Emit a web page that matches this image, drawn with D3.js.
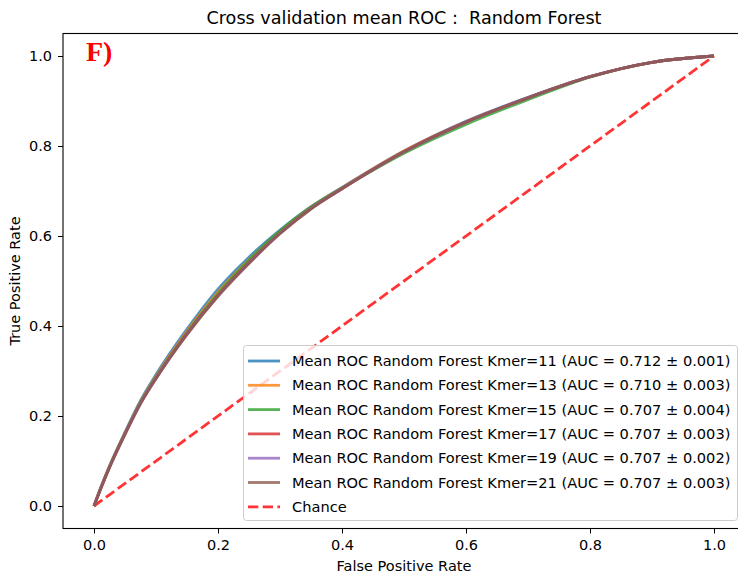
<!DOCTYPE html>
<html>
<head>
<meta charset="utf-8">
<script src="https://cdn.jsdelivr.net/npm/d3@7/dist/d3.min.js"></script>
<style>
  body { margin: 0; background: #fff; }
  text { font-family: 'DejaVu Sans', sans-serif; fill: #000; }
</style>
</head>
<body>
<svg id="chart" width="738" height="576"></svg>
<script>
// false positive rate grid shared by all mean curves
var fpr = [0, 0.01, 0.025, 0.05, 0.075, 0.1, 0.15, 0.2, 0.25, 0.3, 0.35, 0.4, 0.5, 0.6, 0.7, 0.8, 0.9, 1.0];

// mean true positive rate per kmer size
var tprK11 = [0, 0.038, 0.089, 0.164, 0.234, 0.292, 0.393, 0.482, 0.553, 0.613, 0.665, 0.708, 0.789, 0.855, 0.908, 0.954, 0.986, 1];
var tprK13 = [0, 0.037, 0.088, 0.162, 0.231, 0.288, 0.388, 0.475, 0.547, 0.610, 0.664, 0.707, 0.789, 0.854, 0.907, 0.954, 0.986, 1];
var tprK15 = [0, 0.036, 0.087, 0.161, 0.230, 0.286, 0.385, 0.472, 0.546, 0.611, 0.664, 0.706, 0.784, 0.848, 0.903, 0.953, 0.986, 1];
var tprK17 = [0, 0.036, 0.086, 0.160, 0.228, 0.284, 0.383, 0.468, 0.541, 0.606, 0.661, 0.705, 0.787, 0.853, 0.907, 0.954, 0.986, 1];
var tprK19 = [0, 0.036, 0.086, 0.160, 0.228, 0.284, 0.382, 0.467, 0.540, 0.606, 0.661, 0.705, 0.787, 0.853, 0.907, 0.954, 0.986, 1];
var tprK21 = [0, 0.035, 0.085, 0.159, 0.227, 0.283, 0.381, 0.466, 0.539, 0.605, 0.660, 0.705, 0.787, 0.853, 0.907, 0.954, 0.986, 1];

var kmers = ['11', '13', '15', '17', '19', '21'];
var aucMeans = ['0.712', '0.710', '0.707', '0.707', '0.707', '0.707'];
var aucStds = ['0.001', '0.003', '0.004', '0.003', '0.002', '0.003'];
var tprs = [tprK11, tprK13, tprK15, tprK17, tprK19, tprK21];
var colors = ['#1f77b4', '#ff7f0e', '#2ca02c', '#d62728', '#9467bd', '#8c564b'];

var chanceX = [0, 1];
var ticks = [0, 0.2, 0.4, 0.6, 0.8, 1.0];

var svg = d3.select('#chart');

// axes box (right spine falls outside the picture, like the original crop)
var boxL = 63, boxR = 745, boxT = 33.5, boxB = 528.5;

var x = d3.scaleLinear().domain([-0.05, 1.05]).range([boxL, boxR]);
var y = d3.scaleLinear().domain([-0.05, 1.05]).range([boxB, boxT]);

svg.append('text')
  .attr('x', (boxL + boxR) / 2)
  .attr('y', 24)
  .attr('text-anchor', 'middle')
  .style('font-size', '17.6px')
  .style('white-space', 'pre')
  .text('Cross validation mean ROC :  Random Forest');

var line = d3.line()
  .x(function (d) { return x(d[0]); })
  .y(function (d) { return y(d[1]); })
  .curve(d3.curveMonotoneX);

// chance diagonal
svg.append('path')
  .attr('d', line(chanceX.map(function (v) { return [v, v]; })))
  .attr('fill', 'none')
  .attr('stroke', '#ff0000')
  .attr('stroke-opacity', 0.8)
  .attr('stroke-width', 2.8)
  .attr('stroke-dasharray', '10.3,4.4');

tprs.forEach(function (t, i) {
  svg.append('path')
    .attr('d', line(fpr.map(function (f, j) { return [f, t[j]]; })))
    .attr('fill', 'none')
    .attr('stroke', colors[i])
    .attr('stroke-opacity', 0.8)
    .attr('stroke-width', 2.8)
    .attr('stroke-linejoin', 'round');
});

// axes
var xAxis = svg.append('g')
  .attr('transform', 'translate(0,' + boxB + ')')
  .call(d3.axisBottom(x).tickValues(ticks).tickFormat(d3.format('.1f')).tickSizeOuter(0).tickSize(5).tickPadding(6));
var yAxis = svg.append('g')
  .attr('transform', 'translate(' + boxL + ',0)')
  .call(d3.axisLeft(y).tickValues(ticks).tickFormat(d3.format('.1f')).tickSizeOuter(0).tickSize(5).tickPadding(6));
[xAxis, yAxis].forEach(function (a) {
  a.select('.domain').remove();
  a.selectAll('line').attr('stroke', '#000').attr('stroke-width', 1);
  a.selectAll('text').style('font-size', '14.5px').attr('font-family', 'DejaVu Sans').attr('fill', '#000');
});

svg.append('rect')
  .attr('x', boxL)
  .attr('y', boxT)
  .attr('width', boxR - boxL)
  .attr('height', boxB - boxT)
  .attr('fill', 'none')
  .attr('stroke', '#000')
  .attr('stroke-width', 1.1);

svg.append('text')
  .attr('x', (boxL + boxR) / 2)
  .attr('y', 571)
  .attr('text-anchor', 'middle')
  .style('font-size', '14.5px')
  .text('False Positive Rate');

svg.append('text')
  .attr('transform', 'translate(20,' + (boxT + boxB) / 2 + ') rotate(-90)')
  .attr('text-anchor', 'middle')
  .style('font-size', '14.5px')
  .text('True Positive Rate');

// panel letter
svg.append('text')
  .attr('x', 86)
  .attr('y', 61)
  .style('font-family', "'Liberation Serif', 'DejaVu Serif', serif")
  .style('font-weight', 'bold')
  .style('font-size', '28px')
  .style('fill', '#ff0000')
  .text('F)');

// legend, lower right
var legend = svg.append('g');
legend.append('rect')
  .attr('x', 243.5)
  .attr('y', 345.5)
  .attr('width', 494)
  .attr('height', 175)
  .attr('rx', 3)
  .attr('fill', '#fff')
  .attr('fill-opacity', 0.8)
  .attr('stroke', '#cccccc');

var labels = kmers.map(function (k, i) {
  return 'Mean ROC Random Forest Kmer=' + k + ' (AUC = ' + aucMeans[i] + ' \u00b1 ' + aucStds[i] + ')';
});
labels.push('Chance');

labels.forEach(function (lab, i) {
  var ry = 361 + i * 24.3;
  legend.append('line')
    .attr('x1', 248).attr('x2', 280)
    .attr('y1', ry).attr('y2', ry)
    .attr('stroke', i < 6 ? colors[i] : '#ff0000')
    .attr('stroke-opacity', 0.8)
    .attr('stroke-width', 2.8)
    .attr('stroke-dasharray', i < 6 ? null : '10.3,4.4');
  legend.append('text')
    .attr('x', 292)
    .attr('y', ry)
    .attr('dy', '0.35em')
    .style('font-size', '14.6px')
    .text(lab);
});
</script>
</body>
</html>
